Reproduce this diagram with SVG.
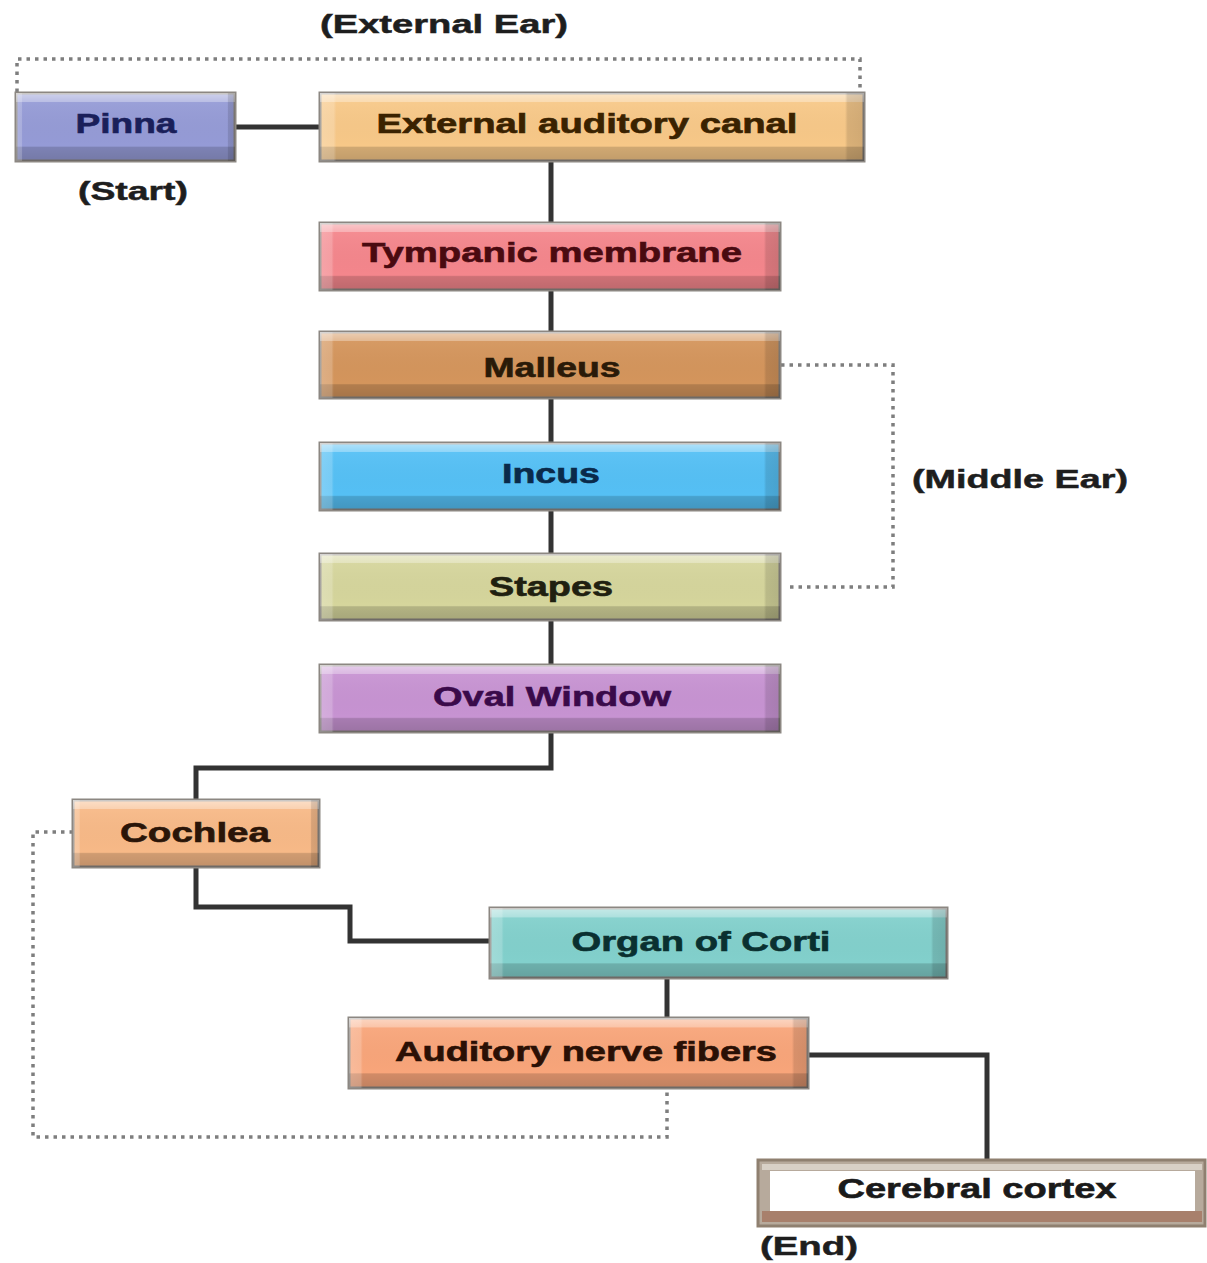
<svg xmlns="http://www.w3.org/2000/svg" width="1207" height="1263" viewBox="0 0 1207 1263">
<defs>
<linearGradient id="vshade" x1="0" y1="0" x2="0" y2="1">
<stop offset="0" stop-color="#fff" stop-opacity="0.55"/>
<stop offset="0.13" stop-color="#fff" stop-opacity="0.35"/>
<stop offset="0.14" stop-color="#fff" stop-opacity="0.05"/>
<stop offset="0.78" stop-color="#000" stop-opacity="0"/>
<stop offset="0.80" stop-color="#000" stop-opacity="0.16"/>
<stop offset="1" stop-color="#000" stop-opacity="0.22"/>
</linearGradient>
<linearGradient id="hshade" x1="0" y1="0" x2="1" y2="0">
<stop offset="0" stop-color="#fff" stop-opacity="0.25"/>
<stop offset="0.025" stop-color="#fff" stop-opacity="0.2"/>
<stop offset="0.03" stop-color="#fff" stop-opacity="0"/>
<stop offset="0.965" stop-color="#000" stop-opacity="0"/>
<stop offset="0.97" stop-color="#000" stop-opacity="0.12"/>
<stop offset="1" stop-color="#000" stop-opacity="0.15"/>
</linearGradient>
</defs>
<style>
.box{stroke:#8c8782;stroke-width:3}
.vs{fill:url(#vshade)}
.hs{fill:url(#hshade)}
.t{font-family:"Liberation Sans",Arial,sans-serif;font-weight:bold;font-size:27px;text-anchor:middle;stroke-width:0.6}
.lbl{font-family:"Liberation Sans",Arial,sans-serif;font-weight:bold;font-size:26px;text-anchor:middle;fill:#1e1e1e;stroke:#1e1e1e;stroke-width:0.5}
.link{fill:none;stroke:#333;stroke-width:5;stroke-linejoin:miter}
.dot{fill:none;stroke:#7e7e7e;stroke-width:3.5;stroke-dasharray:3.5 5}
</style>
<rect width="1207" height="1263" fill="#fff"/>

<g id="connectors">
<path class="link" d="M235 127 H320"/>
<path class="link" d="M551 161 V223"/>
<path class="link" d="M551 290 V332"/>
<path class="link" d="M551 398 V443"/>
<path class="link" d="M551 510 V554"/>
<path class="link" d="M551 620 V665"/>
<path class="link" d="M551 732 V768 H196 V800"/>
<path class="link" d="M196 867 V907 H350 V941 H490"/>
<path class="link" d="M667 978 V1018"/>
<path class="link" d="M808 1055 H987 V1160"/>
<path class="dot" d="M17 92 V59 H860 V92"/>
<path class="dot" d="M781 365 H893 V587 H790"/>
<path class="dot" d="M73 832 H33 V1137 H667 V1088"/>
</g>

<g id="labels">
<text class="lbl" x="444" y="33" textLength="248" lengthAdjust="spacingAndGlyphs">(External Ear)</text>
<text class="lbl" x="133" y="200" textLength="110" lengthAdjust="spacingAndGlyphs">(Start)</text>
<text class="lbl" x="1020" y="488" textLength="216" lengthAdjust="spacingAndGlyphs">(Middle Ear)</text>
<text class="lbl" x="809" y="1255" textLength="98" lengthAdjust="spacingAndGlyphs">(End)</text>
</g>

<g id="pinna">
<rect class="box" x="16" y="93" width="219" height="68" fill="#959bd6"/>
<rect class="vs" x="16" y="93" width="219" height="68"/>
<rect class="hs" x="16" y="93" width="219" height="68"/>
<text class="t" x="126" y="133" fill="#1a1f5a" stroke="#1a1f5a" textLength="101" lengthAdjust="spacingAndGlyphs">Pinna</text>
</g>

<g id="external-auditory-canal">
<rect class="box" x="320" y="93" width="544" height="68" fill="#f7c888"/>
<rect class="vs" x="320" y="93" width="544" height="68"/>
<rect class="hs" x="320" y="93" width="544" height="68"/>
<text class="t" x="587" y="133" fill="#3a2200" stroke="#3a2200" textLength="421" lengthAdjust="spacingAndGlyphs">External auditory canal</text>
</g>

<g id="tympanic-membrane">
<rect class="box" x="320" y="223" width="460" height="67" fill="#f4868c"/>
<rect class="vs" x="320" y="223" width="460" height="67"/>
<rect class="hs" x="320" y="223" width="460" height="67"/>
<text class="t" x="552" y="262" fill="#4a0a10" stroke="#4a0a10" textLength="380" lengthAdjust="spacingAndGlyphs">Tympanic membrane</text>
</g>

<g id="malleus">
<rect class="box" x="320" y="332" width="460" height="66" fill="#d4955c" stroke="#b4a890"/>
<rect class="vs" x="320" y="332" width="460" height="66"/>
<rect class="hs" x="320" y="332" width="460" height="66"/>
<text class="t" x="552" y="377" fill="#2a1a08" stroke="#2a1a08" textLength="137" lengthAdjust="spacingAndGlyphs">Malleus</text>
</g>

<g id="incus">
<rect class="box" x="320" y="443" width="460" height="67" fill="#55c0f5" stroke="#7f95aa"/>
<rect class="vs" x="320" y="443" width="460" height="67"/>
<rect class="hs" x="320" y="443" width="460" height="67"/>
<text class="t" x="551" y="483" fill="#0a2a4a" stroke="#0a2a4a" textLength="98" lengthAdjust="spacingAndGlyphs">Incus</text>
</g>

<g id="stapes">
<rect class="box" x="320" y="554" width="460" height="66" fill="#d5d59c" stroke="#a8a48a"/>
<rect class="vs" x="320" y="554" width="460" height="66"/>
<rect class="hs" x="320" y="554" width="460" height="66"/>
<text class="t" x="551" y="596" fill="#202010" stroke="#202010" textLength="124" lengthAdjust="spacingAndGlyphs">Stapes</text>
</g>

<g id="oval-window">
<rect class="box" x="320" y="665" width="460" height="67" fill="#c793d2" stroke="#8f7f96"/>
<rect class="vs" x="320" y="665" width="460" height="67"/>
<rect class="hs" x="320" y="665" width="460" height="67"/>
<text class="t" x="552" y="706" fill="#3a0a4a" stroke="#3a0a4a" textLength="238" lengthAdjust="spacingAndGlyphs">Oval Window</text>
</g>

<g id="cochlea">
<rect class="box" x="73" y="800" width="246" height="67" fill="#f7b987" stroke="#a89a8a"/>
<rect class="vs" x="73" y="800" width="246" height="67"/>
<rect class="hs" x="73" y="800" width="246" height="67"/>
<text class="t" x="195" y="842" fill="#2a1508" stroke="#2a1508" textLength="150" lengthAdjust="spacingAndGlyphs">Cochlea</text>
</g>

<g id="organ-of-corti">
<rect class="box" x="490" y="908" width="457" height="70" fill="#82d0cc" stroke="#7a9896"/>
<rect class="vs" x="490" y="908" width="457" height="70"/>
<rect class="hs" x="490" y="908" width="457" height="70"/>
<text class="t" x="701" y="951" fill="#0a3030" stroke="#0a3030" textLength="259" lengthAdjust="spacingAndGlyphs">Organ of Corti</text>
</g>

<g id="auditory-nerve-fibers">
<rect class="box" x="349" y="1018" width="459" height="70" fill="#f8a57a" stroke="#b09a8c"/>
<rect class="vs" x="349" y="1018" width="459" height="70"/>
<rect class="hs" x="349" y="1018" width="459" height="70"/>
<text class="t" x="586" y="1061" fill="#2a1005" stroke="#2a1005" textLength="382" lengthAdjust="spacingAndGlyphs">Auditory nerve fibers</text>
</g>

<g id="cerebral-cortex">
<rect x="758" y="1160" width="447" height="66" fill="#b7aa9c" stroke="#8f8070" stroke-width="3"/>
<rect x="762" y="1164" width="440" height="6" fill="#d8d0c6"/>
<rect x="770" y="1171" width="425" height="40" fill="#ffffff"/>
<rect x="762" y="1211" width="440" height="11" fill="#a8806c"/>
<text class="t" x="977" y="1198" fill="#1a1a1a" stroke="#1a1a1a" textLength="279" lengthAdjust="spacingAndGlyphs">Cerebral cortex</text>
</g>
</svg>
